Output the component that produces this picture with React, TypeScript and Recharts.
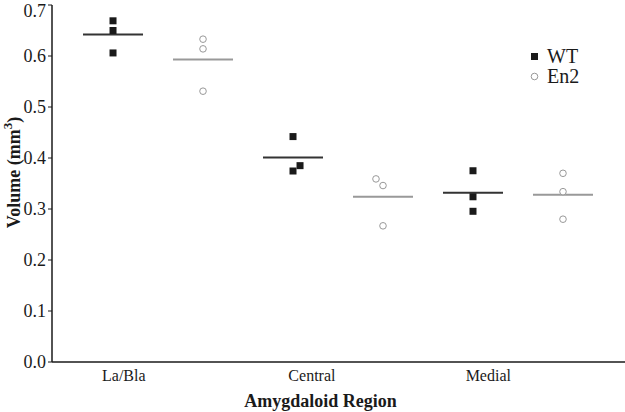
import React from "react";
import { ComposedChart, Scatter, XAxis, YAxis } from "recharts";

// values (volume in mm^3)
const categories = ["La/Bla", "Central", "Medial"];
const categoryTicks = [1.12, 3.21, 5.17];
const yTicks = [0, 0.1, 0.2, 0.3, 0.4, 0.5, 0.6, 0.7];

const wtX = [1, 1, 1, 3, 3, 3.078, 5, 5, 5];
const wtY = [0.669, 0.65, 0.606, 0.442, 0.3745, 0.385, 0.375, 0.324, 0.2955];
const en2X = [2, 2, 2, 3.922, 4, 4, 6, 6, 6];
const en2Y = [0.633, 0.614, 0.531, 0.359, 0.346, 0.267, 0.37, 0.334, 0.28];

const wtMeanX = [1, 3, 5];
const wtMean = [0.642, 0.401, 0.332];
const en2MeanX = [2, 4, 6];
const en2Mean = [0.593, 0.324, 0.328];

const FONT = '"Liberation Serif", "Times New Roman", serif';
const DARK = "#1a1a1a";
const GREY = "#999";

const zip = (xs: number[], ys: number[]) => xs.map((x, i) => ({ x, y: ys[i] }));

const Square = (p: any) => <rect x={p.cx - 3.5} y={p.cy - 3.5} width={7} height={7} fill={DARK} />;
const Ring = (p: any) => <circle cx={p.cx} cy={p.cy} r={3.3} fill="#fff" stroke={GREY} strokeWidth={1} />;
const meanBar = (color: string) => (p: any) =>
  <line x1={p.cx - 30} x2={p.cx + 30} y1={p.cy} y2={p.cy} stroke={color} strokeWidth={2} />;

function YLabel({ viewBox }: any) {
  const x = viewBox.x + 13.5;
  const y = viewBox.y + viewBox.height / 2 - 11;
  return (
    <text x={x} y={y} transform={`rotate(-90 ${x} ${y})`} textAnchor="middle" dominantBaseline="central"
      fontFamily={FONT} fontWeight="bold" fontSize={18} fill={DARK}>
      Volume (mm<tspan dy={-7} fontSize={13}>3</tspan><tspan dy={7}>)</tspan>
    </text>
  );
}

function XLabel({ viewBox }: any) {
  return (
    <text x={viewBox.x + viewBox.width / 2 - 18} y={viewBox.y + 39} textAnchor="middle" dominantBaseline="central"
      fontFamily={FONT} fontWeight="bold" fontSize={18} fill={DARK}>
      Amygdaloid Region
    </text>
  );
}

function LegendBox() {
  const rows = [
    { name: "WT", mark: <rect x={3} y={3} width={7} height={7} fill={DARK} /> },
    { name: "En2", mark: <circle cx={6.5} cy={6.5} r={3.3} fill="#fff" stroke={GREY} /> },
  ];
  return (
    <div style={{ position: "absolute", left: 528, top: 46, fontFamily: FONT, fontSize: 20, color: DARK, lineHeight: "20px" }}>
      {rows.map((r) => (
        <div key={r.name} style={{ display: "flex", alignItems: "center", height: 20 }}>
          <svg width={13} height={13} style={{ marginRight: 6 }}>{r.mark}</svg>
          <span>{r.name}</span>
        </div>
      ))}
    </div>
  );
}

export default function App() {
  return (
    <div style={{ position: "relative", width: 625, height: 412 }}>
      <style>{"body{margin:0}"}</style>
      <ComposedChart width={625} height={412} margin={{ top: 5, right: 0, bottom: 0, left: 0 }}>
        <XAxis
          type="number"
          dataKey="x"
          domain={[0.322, 6.689]}
          allowDataOverflow
          ticks={categoryTicks}
          tickFormatter={(v: number) => categories[categoryTicks.indexOf(v)] ?? ""}
          tickLine={false}
          axisLine={{ stroke: DARK, strokeWidth: 1.5 }}
          tick={{ fontFamily: FONT, fontSize: 16, fill: DARK }}
          height={50}
          label={<XLabel />}
        />
        <YAxis
          type="number"
          dataKey="y"
          domain={[0, 0.7]}
          ticks={yTicks}
          tickFormatter={(v: number) => v.toFixed(1)}
          tickSize={4}
          tickMargin={2}
          tickLine={{ stroke: DARK }}
          axisLine={{ stroke: DARK, strokeWidth: 1.5 }}
          tick={{ fontFamily: FONT, fontSize: 18, fill: DARK }}
          width={52}
          label={<YLabel />}
        />
        <Scatter name="WT mean" data={zip(wtMeanX, wtMean)} shape={meanBar("#333")} isAnimationActive={false} />
        <Scatter name="En2 mean" data={zip(en2MeanX, en2Mean)} shape={meanBar(GREY)} isAnimationActive={false} />
        <Scatter name="WT" data={zip(wtX, wtY)} shape={Square} isAnimationActive={false} />
        <Scatter name="En2" data={zip(en2X, en2Y)} shape={Ring} isAnimationActive={false} />
      </ComposedChart>
      <LegendBox />
    </div>
  );
}
